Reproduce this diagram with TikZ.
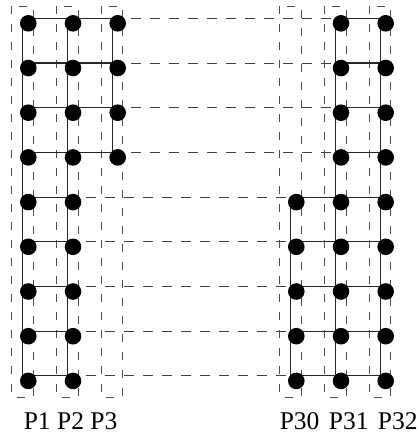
\documentclass[tikz,border=0pt]{standalone}
\usepackage{fontspec}
\setmainfont{Liberation Serif}
\tikzset{
  proc/.style={circle,fill=black,minimum size=16.6pt,inner sep=0pt},
  procbox/.style={draw=black!70,dash pattern=on 8pt off 10pt,line width=0.9pt},
  link/.style={draw=black!85,line width=1.1pt},
  nolink/.style={draw=black!75,dash pattern=on 10pt off 9pt,line width=0.9pt},
  plabel/.style={anchor=base west,inner sep=0pt,font=\fontsize{25.5}{30}\selectfont}
}

\begin{document}
\begin{tikzpicture}[x=1pt,y=-1pt]
  \useasboundingbox (0,0) rectangle (418,437);

  % grid points of the six processor columns
  \foreach \c/\x in {a/22.7,b/67.4,c/112.1,x/290.7,y/335.4,z/380.1}
    \foreach \r in {1,...,9}
      \coordinate (\c\r) at (\x,{18.3+44.7*(\r-1)});

  % one dashed box per processor
  \foreach \c in {a,b,c,x,y,z}
    \draw[procbox] ([shift={(-10.8,-12.3)}]\c1) rectangle ([shift={(10.8,21.1)}]\c9);

  % links through the elided processors
  \foreach \r in {1,...,4}
    \draw[nolink] (c\r) -- (y\r);
  \foreach \r in {5,...,9}
    \draw[nolink] (b\r) -- (x\r);

  % mesh links
  \foreach \r in {1,...,9} {
    \draw[link] (a\r) -- (b\r);
    \draw[link] (y\r) -- (z\r);
  }
  \foreach \r in {1,...,4}
    \draw[link] (b\r) -- (c\r);
  \foreach \r in {5,...,9}
    \draw[link] (x\r) -- (y\r);
  \draw[link] (a1) -- (a9);
  \draw[link] (b1) -- (b9);
  \draw[link] (c1) -- (c4);
  \draw[link] (x5) -- (x9);
  \draw[link] (y1) -- (y9);
  \draw[link] (z1) -- (z9);

  % elements held by each processor
  \foreach \c/\f/\l in {a/1/9,b/1/9,c/1/4,x/5/9,y/1/9,z/1/9}
    \foreach \r in {\f,...,\l}
      \node[proc] (e\c\r) at ([shift={(5.6,5)}]\c\r) {};

  \node[plabel] (pleft) at (23.6,429) {P1 P2 P3};
  \node[plabel] (pright) at (279.6,429) {P30\hspace{3pt} P31\hspace{3pt} P32};
\end{tikzpicture}
\end{document}
